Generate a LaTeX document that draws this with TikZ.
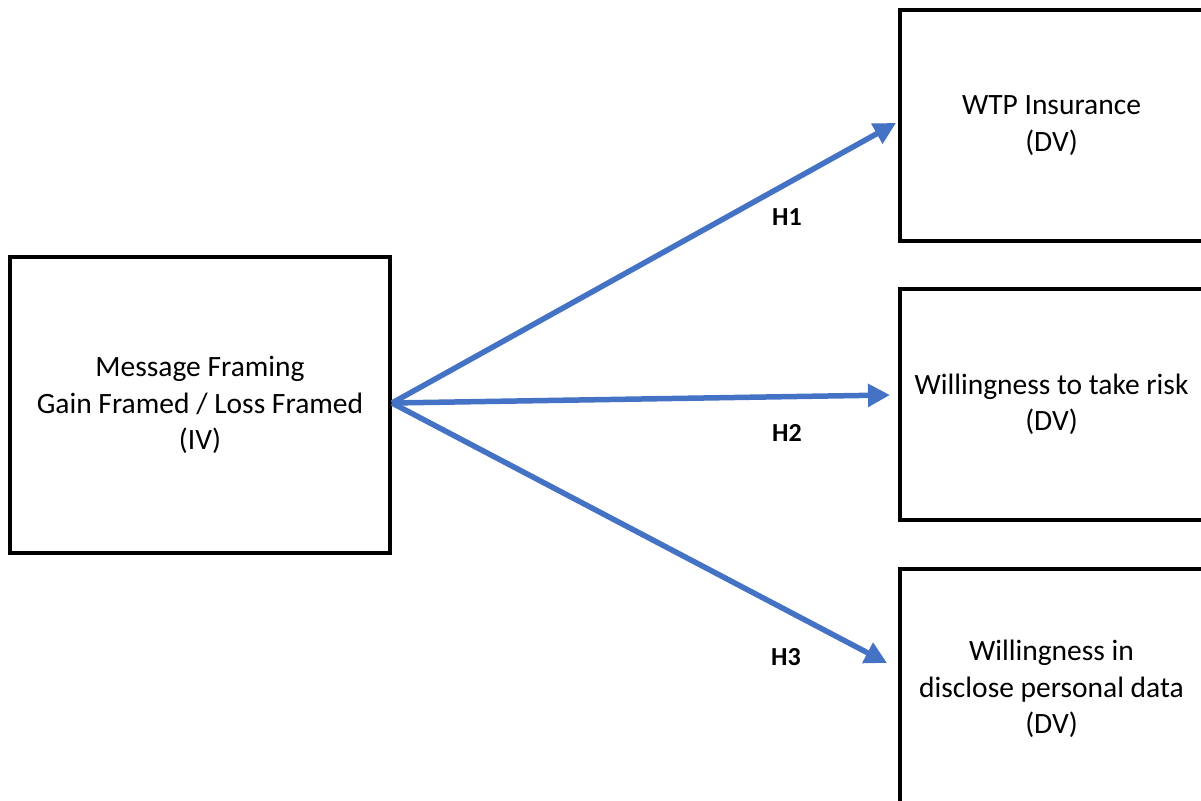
\documentclass[tikz,border=0pt]{standalone}
\usepackage{fontspec}
\setmainfont{Carlito}
\usetikzlibrary{arrows.meta}
\definecolor{arrowblue}{HTML}{4472C4}
\begin{document}
\begin{tikzpicture}[x=1pt,y=-1pt,
  box/.style={draw=black,line width=4.5pt,rectangle,align=center,
    font=\fontsize{29.5}{36.5}\selectfont,inner sep=0pt},
  link/.style={draw=arrowblue,line width=5.5pt,-{Triangle[length=22pt,width=22pt]}},
  hlabel/.style={font=\fontsize{26}{30}\selectfont\bfseries}]
\useasboundingbox (0,0) rectangle (1201,800);
\clip (0,0) rectangle (1201,800);
\node[box,minimum width=380pt,minimum height=296pt] (L) at (200,405)
  {Message Framing\\Gain Framed / Loss Framed\\(IV)};
\node[box,minimum width=303pt,minimum height=231pt] (T) at (1051.5,125.5)
  {WTP Insurance\\(DV)};
\node[box,minimum width=303pt,minimum height=231pt] (M) at (1051.5,404.5)
  {Willingness to take risk\\(DV)};
\node[box,minimum width=303pt,minimum height=240pt] (B) at (1051.5,689)
  {Willingness in\\disclose personal data\\(DV)};
\coordinate (s) at (392,403);
\coordinate (t1) at (896,123);
\coordinate (t2) at (890,395);
\coordinate (t3) at (887,663);
\draw[link] (s) -- (t1);
\draw[link] (s) -- (t2);
\draw[link] (s) -- (t3);
\node[hlabel] (h1) at (787,217) {H1};
\node[hlabel] (h2) at (787,433) {H2};
\node[hlabel] (h3) at (786,657) {H3};
\end{tikzpicture}
\end{document}
